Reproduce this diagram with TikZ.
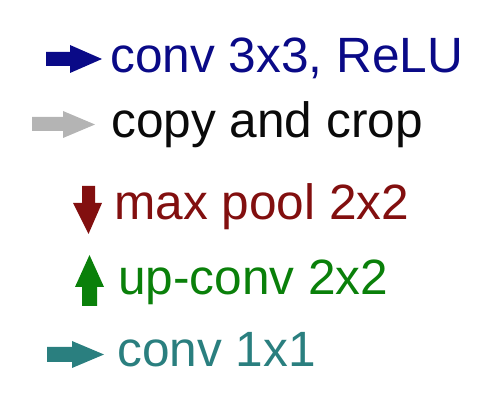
\documentclass[tikz,border=0pt]{standalone}
\usepackage{fontspec}
\setmainfont{Liberation Sans}
\definecolor{cblue}{RGB}{10,10,135}
\definecolor{cgray}{RGB}{180,180,180}
\definecolor{cblack}{RGB}{10,10,10}
\definecolor{cred}{RGB}{130,15,15}
\definecolor{cgreen}{RGB}{10,128,10}
\definecolor{cteal}{RGB}{42,127,127}
\begin{document}
\begin{tikzpicture}[x=1pt,y=-1pt,
  lbl/.style={anchor=base west,inner sep=0pt,font=\fontsize{49.6}{58}\selectfont}]
\useasboundingbox (0,0) rectangle (496,406);
% blue arrow
\fill[cblue] (46,52) -- (70,52) -- (70,45) -- (102,59) -- (70,73) -- (70,66) -- (46,66) -- cycle;
\node[lbl,text=cblue] (t1) at (110,73) {conv 3x3, ReLU};
% gray arrow
\fill[cgray] (32,117) -- (63,117) -- (63,111) -- (95,124.5) -- (63,138) -- (63,131) -- (32,131) -- cycle;
\node[lbl,text=cblack] (t2) at (111,138) {copy and crop};
% red down arrow
\fill[cred] (82,186) -- (95,186) -- (95,203) -- (102,203) -- (88.5,234) -- (73,203) -- (82,203) -- cycle;
\node[lbl,text=cred] (t3) at (114,220) {max pool 2x2};
% green up arrow
\fill[cgreen] (82,306) -- (97,306) -- (97,287) -- (104,287) -- (89.5,255) -- (75,287) -- (82,287) -- cycle;
\node[lbl,text=cgreen] (t4) at (118,295) {up-conv 2x2};
% teal arrow
\fill[cteal] (47,347) -- (72,347) -- (72,341) -- (104,354.5) -- (72,368) -- (72,362) -- (47,362) -- cycle;
\node[lbl,text=cteal] (t5) at (117,367) {conv 1x1};
\end{tikzpicture}
\end{document}
